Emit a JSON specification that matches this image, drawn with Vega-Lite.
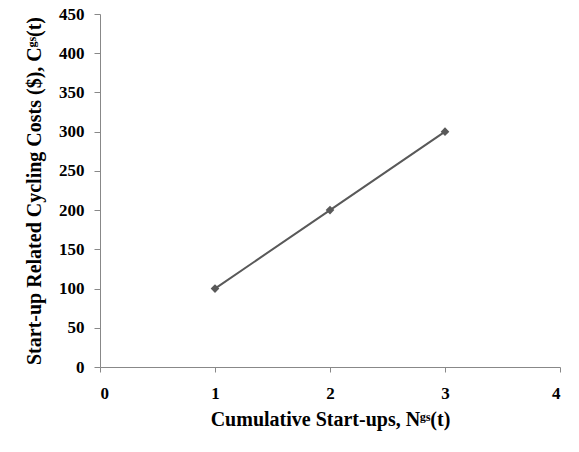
{
  "$schema": "https://vega.github.io/schema/vega-lite/v6.json",
  "width": 460,
  "height": 353,
  "autosize": {"type": "none"},
  "padding": {"left": 100, "top": 14, "right": 19, "bottom": 85},
  "background": "white",
  "config": {
    "view": {"stroke": null},
    "axis": {
      "grid": false,
      "domainColor": "#888888",
      "tickColor": "#888888",
      "labelFont": "Liberation Serif",
      "labelFontWeight": "bold",
      "labelFontSize": 17,
      "labelColor": "#000000",
      "titleFont": "Liberation Serif",
      "titleFontWeight": "bold",
      "titleFontSize": 20,
      "titleColor": "#000000"
    }
  },
  "data": {
    "values": [
      {"startups": 1, "cost": 100},
      {"startups": 2, "cost": 200},
      {"startups": 3, "cost": 300}
    ]
  },
  "encoding": {
    "x": {
      "field": "startups",
      "type": "quantitative",
      "scale": {"domain": [0, 4], "nice": false},
      "axis": {
        "title": "Cumulative Start-ups, Nᵍˢ(t)",
        "values": [0, 1, 2, 3, 4],
        "format": "d",
        "tickSize": 5,
        "labelPadding": 13,
        "titlePadding": 8
      }
    },
    "y": {
      "field": "cost",
      "type": "quantitative",
      "scale": {"domain": [0, 450], "nice": false},
      "axis": {
        "title": "Start-up Related Cycling Costs ($), Cᵍˢ(t)",
        "values": [0, 50, 100, 150, 200, 250, 300, 350, 400, 450],
        "tickSize": 6,
        "labelPadding": 10,
        "titlePadding": 14
      }
    }
  },
  "layer": [
    {"mark": {"type": "line", "color": "#595959", "strokeWidth": 2}},
    {"mark": {"type": "point", "shape": "diamond", "filled": true, "color": "#595959", "size": 75, "opacity": 1}}
  ]
}
